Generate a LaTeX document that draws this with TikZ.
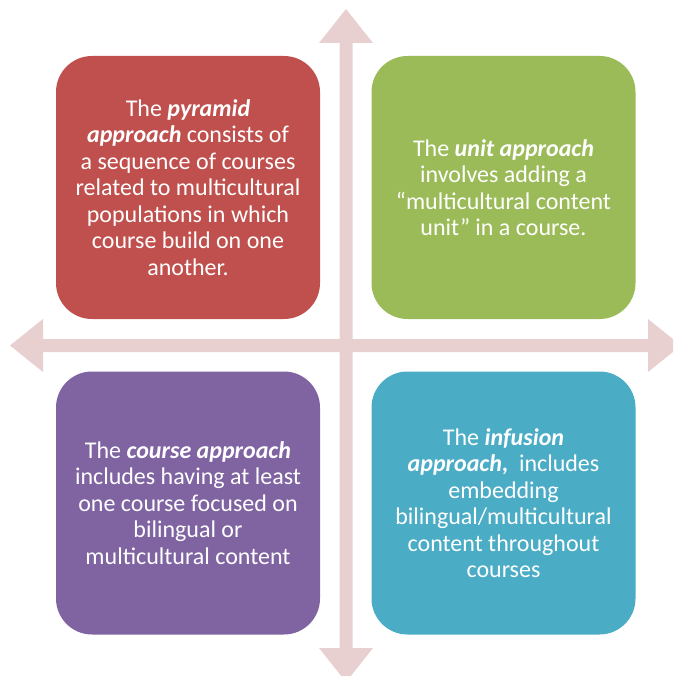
\documentclass[tikz,border=0pt]{standalone}
\usepackage{fontspec}
\setmainfont{Carlito}
\begin{document}
\begin{tikzpicture}[x=1pt,y=-1pt,
  card/.style={rounded corners=36pt, minimum width=264pt, minimum height=263pt,
    text=white, align=center, inner sep=0pt,
    font=\fontsize{24pt}{26.5pt}\selectfont},
  axis/.style={fill=axiscol, draw=none}]
\definecolor{axiscol}{HTML}{E8D0D1}
\definecolor{cred}{HTML}{C0504D}
\definecolor{cgreen}{HTML}{9BBB59}
\definecolor{cpurple}{HTML}{8064A2}
\definecolor{cblue}{HTML}{4BACC6}
\useasboundingbox (0,0) rectangle (673,676);
\begin{scope}
\clip (0,0) rectangle (673,676);
% vertical double arrow
\fill[axiscol] (346,9) -- (373,43) -- (352.5,43) -- (352.5,648) -- (373,648)
  -- (346,682) -- (319,648) -- (339.5,648) -- (339.5,43) -- (319,43) -- cycle;
% horizontal double arrow
\fill[axiscol] (10,345.5) -- (43,319) -- (43,339) -- (648,339) -- (648,319)
  -- (681,345.5) -- (648,372) -- (648,352) -- (43,352) -- (43,372) -- cycle;
\end{scope}
\node[card, fill=cred] (pyr) at (188,187.5)
  {The \textbf{\textit{pyramid}}\\ \textbf{\textit{approach}} consists of\\
   a sequence of courses\\ related to multicultural\\ populations in which\\
   course build on one\\ another.};
\node[card, fill=cgreen] (unit) at (503.5,187.5)
  {The \textbf{\textit{unit approach}}\\ involves adding a\\
   “multicultural content\\ unit” in a course.};
\node[card, fill=cpurple] (course) at (188,503)
  {The \textbf{\textit{course approach}}\\ includes having at least\\
   one course focused on\\ bilingual or\\ multicultural content};
\node[card, fill=cblue] (inf) at (503.5,503)
  {The \textbf{\textit{infusion}}\\ \textbf{\textit{approach},}\ \ includes\\
   embedding\\ bilingual/multicultural\\ content throughout\\ courses};
\end{tikzpicture}
\end{document}
